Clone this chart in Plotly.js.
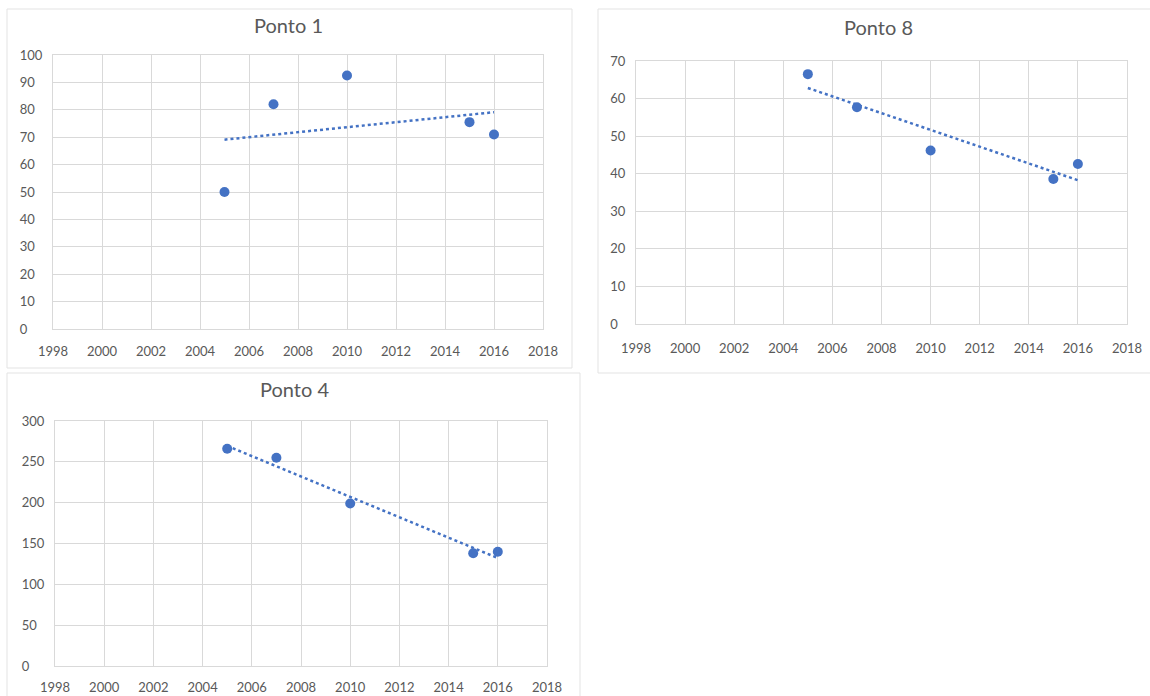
<!DOCTYPE html>
<html>
<head>
<meta charset="utf-8">
<script src="https://cdn.plot.ly/plotly-3.0.1.min.js"></script>
<style>html,body{margin:0;padding:0;background:#fff;}#chart{width:1150px;height:696px;}</style>
</head>
<body>
<div id="chart"></div>
<script>
// Data
const years = [2005, 2007, 2010, 2015, 2016];
const ponto1 = [50, 82, 92.5, 75.5, 71];
const ponto8 = [66.5, 57.7, 46.2, 38.6, 42.6];
const ponto4 = [266, 255, 199, 138, 140];
const titles = ['Ponto 1', 'Ponto 8', 'Ponto 4'];
const xTickVals = [1998, 2000, 2002, 2004, 2006, 2008, 2010, 2012, 2014, 2016, 2018];
const yTicks1 = [0, 10, 20, 30, 40, 50, 60, 70, 80, 90, 100];
const yTicks8 = [0, 10, 20, 30, 40, 50, 60, 70];
const yTicks4 = [0, 50, 100, 150, 200, 250, 300];

const W = 1150, H = 696;
const px = v => v / W;
const py = v => 1 - v / H;

// linear least-squares trendline (as Excel's linear trendline)
function trend(x, y) {
  const n = x.length;
  const mx = x.reduce((a, b) => a + b, 0) / n;
  const my = y.reduce((a, b) => a + b, 0) / n;
  let sxy = 0, sxx = 0;
  for (let i = 0; i < n; i++) { sxy += (x[i] - mx) * (y[i] - my); sxx += (x[i] - mx) ** 2; }
  const b = sxy / sxx, a = my - b * mx;
  const x0 = Math.min(...x), x1 = Math.max(...x);
  return { x: [x0, x1], y: [a + b * x0, a + b * x1] };
}

// left-aligned look for y tick labels: pad with figure spaces
function padLabels(vals) {
  const n = Math.max(...vals.map(v => String(v).length));
  return vals.map(v => String(v) + '\u2007'.repeat(n - String(v).length));
}

const blue = '#4472C4';
const grid = '#d9d9d9';
const txt = '#595959';
const fontFam = 'Lato, "Open Sans", sans-serif';

const series = [ponto1, ponto8, ponto4];
const yTicks = [yTicks1, yTicks8, yTicks4];
const panels = [
  { xd: [px(53), px(543)], yd: [py(329), py(55)], yr: [0, 100], box: [7, 9, 572, 368], title: [288, 25], xs: 10 },
  { xd: [px(636), px(1127)], yd: [py(324), py(61)], yr: [0, 70], box: [598, 9, 1152, 373], title: [878, 27], xs: 12 },
  { xd: [px(55), px(547)], yd: [py(666), py(421)], yr: [0, 300], box: [7, 373, 580, 700], title: [294, 389], xs: 9 }
];

const data = [];
const layout = {
  width: W, height: H, margin: { l: 0, r: 0, t: 0, b: 0 },
  paper_bgcolor: '#fff', plot_bgcolor: '#fff', showlegend: false,
  font: { family: fontFam, color: txt },
  shapes: [], annotations: []
};

panels.forEach((p, i) => {
  const k = i === 0 ? '' : String(i + 1);
  const tr = trend(years, series[i]);
  data.push({
    x: tr.x, y: tr.y, type: 'scatter', mode: 'lines',
    line: { color: blue, width: 2.5, dash: 'dot' },
    xaxis: 'x' + k, yaxis: 'y' + k, hoverinfo: 'skip'
  });
  data.push({
    x: years, y: series[i], type: 'scatter', mode: 'markers',
    marker: { color: blue, size: 10 },
    xaxis: 'x' + k, yaxis: 'y' + k
  });
  layout['xaxis' + k] = {
    domain: p.xd, anchor: 'y' + k, range: [1998, 2018],
    tickvals: xTickVals, ticktext: xTickVals.map(String),
    showgrid: true, gridcolor: grid, gridwidth: 1,
    zeroline: false, showline: true, mirror: true, linecolor: grid,
    ticks: '', ticklabelstandoff: p.xs, tickfont: { family: fontFam, size: 13, color: txt }
  };
  layout['yaxis' + k] = {
    domain: p.yd, anchor: 'x' + k, range: p.yr,
    tickvals: yTicks[i], ticktext: padLabels(yTicks[i]),
    showgrid: true, gridcolor: grid, gridwidth: 1,
    zeroline: true, zerolinecolor: '#bfbfbf', zerolinewidth: 1,
    showline: true, mirror: true, linecolor: grid,
    ticks: '', ticklabelstandoff: 7, tickfont: { family: fontFam, size: 13, color: txt }
  };
  layout.shapes.push({
    type: 'rect', xref: 'paper', yref: 'paper',
    x0: px(p.box[0]), x1: px(p.box[2]), y0: py(p.box[3]), y1: py(p.box[1]),
    line: { color: '#e3e3e3', width: 1 }, fillcolor: 'rgba(0,0,0,0)', layer: 'below'
  });
  layout.annotations.push({
    text: titles[i], xref: 'paper', yref: 'paper',
    x: px(p.title[0]), y: py(p.title[1]), xanchor: 'center', yanchor: 'middle',
    showarrow: false, font: { family: fontFam, size: 20, color: txt }
  });
});

Plotly.newPlot('chart', data, layout, { displayModeBar: false, staticPlot: true });
</script>
</body>
</html>
